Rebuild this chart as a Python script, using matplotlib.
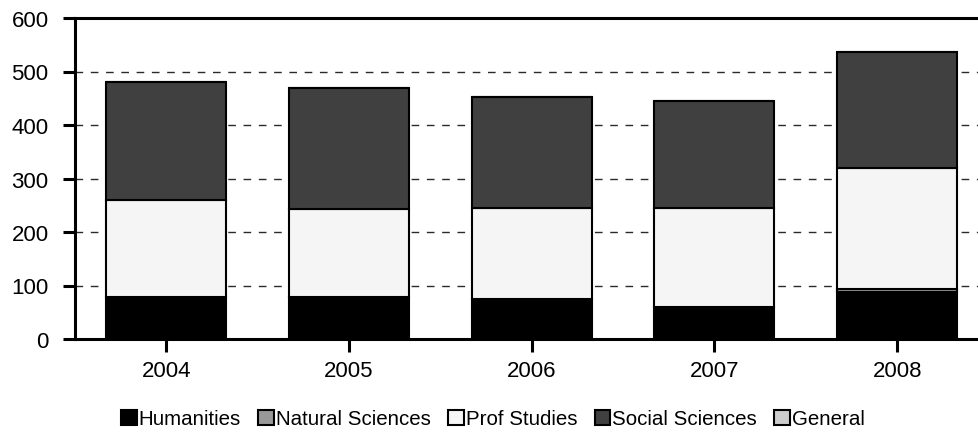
import matplotlib
matplotlib.use("Agg")
import matplotlib.pyplot as plt
import numpy as np

plt.rcParams['font.family'] = ['Liberation Sans', 'DejaVu Sans']

years = ["2004", "2005", "2006", "2007", "2008"]
humanities = [79, 78, 75, 60, 88]
natural_sciences = [0, 0, 0, 0, 5]
prof_studies = [180, 165, 170, 185, 226]
social_sciences = [221, 226, 207, 200, 218]
general = [0, 0, 0, 0, 0]

series = [
    ("Humanities", humanities, "#000000"),
    ("Natural Sciences", natural_sciences, "#999999"),
    ("Prof Studies", prof_studies, "#f5f5f5"),
    ("Social Sciences", social_sciences, "#404040"),
    ("General", general, "#cccccc"),
]

fig = plt.figure(figsize=(9.79, 4.35), dpi=100)
ax = fig.add_axes([75/979, 95/435, 913.5/979, 321/435])

x = np.arange(len(years))
bottom = np.zeros(len(years))
handles = []
for name, vals, col in series:
    b = ax.bar(x, vals, width=0.657, bottom=bottom, color=col, edgecolor="black",
               linewidth=1.5, label=name, zorder=3)
    handles.append(b)
    bottom += np.array(vals)

ax.set_xlim(-0.5, 4.5)
ax.set_ylim(0, 600)
ax.set_yticks(range(0, 601, 100))
ax.set_xticks(x)
ax.set_xticklabels(years)
ax.tick_params(axis='both', labelsize=16, length=9, width=2.2, direction='out', colors='black')
ax.tick_params(axis='x', pad=6)
ax.tick_params(axis='y', pad=10)

for yv in range(100, 600, 100):
    ax.axhline(yv, color="#2a2a2a", linewidth=1, linestyle=(0, (5.5, 5.5)), zorder=1)

for s in ['left', 'bottom', 'top']:
    ax.spines[s].set_linewidth(2.2)
    ax.spines[s].set_color('black')
ax.spines['right'].set_visible(False)

leg = fig.legend(handles=handles, labels=[s[0] for s in series], loc='center',
                 bbox_to_anchor=(493/979, 1 - 420/435), ncol=5, frameon=False,
                 fontsize=14.8, handlelength=0.75, handleheight=0.75, handletextpad=0.1,
                 columnspacing=0.85, borderaxespad=0)

fig.savefig("out.png", dpi=100)
